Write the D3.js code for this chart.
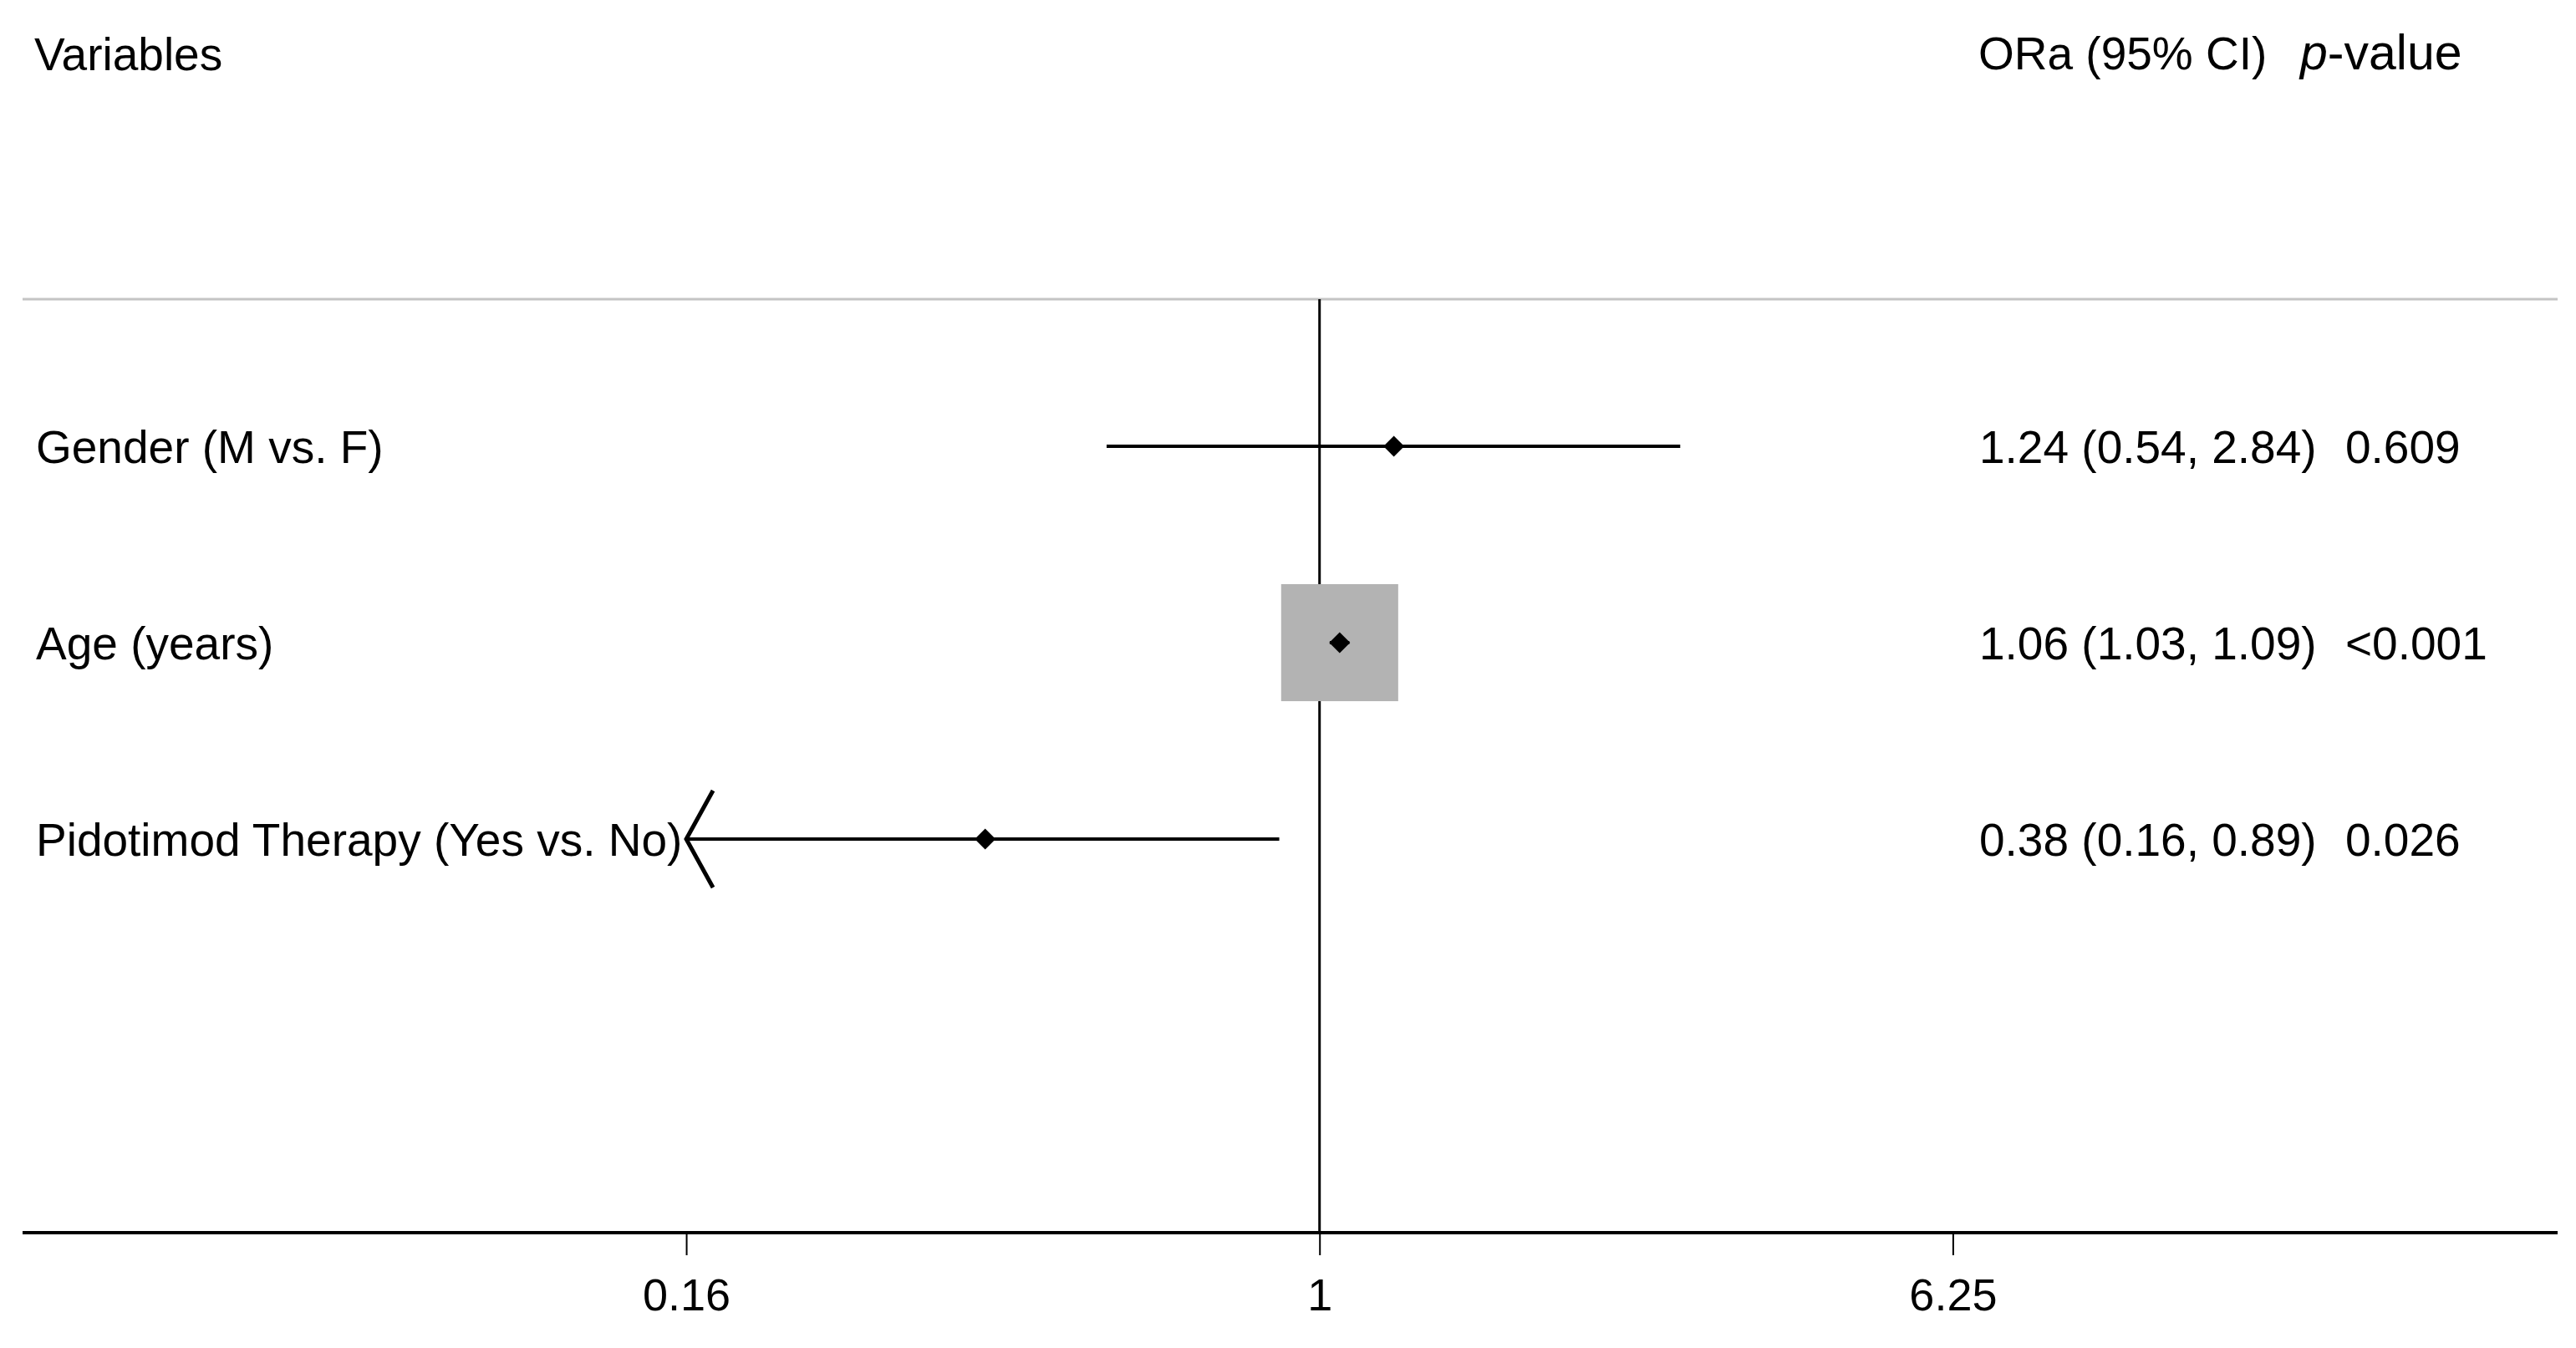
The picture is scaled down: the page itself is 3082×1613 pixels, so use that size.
<!DOCTYPE html>
<meta charset="utf-8">
<style>
body { margin: 0; background: #fff; }
text {
  font-family: "Liberation Sans", Arial, sans-serif;
  font-size: 55px;
  fill: #000;
}
</style>
<svg width="3082" height="1613"></svg>
<script src="https://d3js.org/d3.v7.min.js"></script>
<script>

// rows of the forest plot
var variables = ["Gender (M vs. F)", "Age (years)", "Pidotimod Therapy (Yes vs. No)"];
var oddsRatio = [1.24, 1.06, 0.38];
var ciLower   = [0.54, 1.03, 0.16];
var ciUpper   = [2.84, 1.09, 0.89];
var orLabels  = ["1.24 (0.54, 2.84)", "1.06 (1.03, 1.09)", "0.38 (0.16, 0.89)"];
var pValues   = ["0.609", "<0.001", "0.026"];
var tickValues = [0.16, 1, 6.25];

var svg = d3.select("svg"),
    width = +svg.attr("width"),
    height = +svg.attr("height");

var rows = variables.map(function(v, i) {
  return { name: v, or: oddsRatio[i], lo: ciLower[i], hi: ciUpper[i],
           label: orLabels[i], p: pValues[i], i: i };
});

var x = d3.scaleLog()
    .domain([0.0235, 35.8])
    .range([28, 3058]);

var y = d3.scaleLinear()
    .domain([0, rows.length - 1])
    .range([534, 1004]);

var topY = 358, axisY = 1475;
var boxScale = 7.93;   // box side ~ 1 / log CI width

// header
svg.append("text").attr("x", 41).attr("y", 84).text("Variables");
svg.append("text").attr("x", 2367).attr("y", 83).text("ORa (95% CI)");
var pv = svg.append("text").attr("x", 2752).attr("y", 83).style("font-size", "59px");
pv.append("tspan").style("font-style", "italic").text("p");
pv.append("tspan").text("-value");

// top grey rule
svg.append("line")
    .attr("x1", 27).attr("x2", 3060)
    .attr("y1", topY).attr("y2", topY)
    .attr("stroke", "#c4c4c4")
    .attr("stroke-width", 3);

// null line at OR = 1
svg.append("line")
    .attr("x1", x(1)).attr("x2", x(1))
    .attr("y1", topY).attr("y2", axisY)
    .attr("stroke", "#000")
    .attr("stroke-width", 3);

// bottom axis
var axis = svg.append("g")
    .attr("transform", "translate(0," + axisY + ")")
    .call(d3.axisBottom(x)
      .tickValues(tickValues)
      .tickFormat(function(d) { return d; })
      .tickSize(27)
      .tickPadding(28));
axis.select(".domain").remove();
axis.selectAll(".tick line").attr("stroke-width", 2);
axis.selectAll(".tick text")
    .style("font-family", "Liberation Sans, Arial, sans-serif")
    .style("font-size", "54px")
    .attr("fill", "#000");
svg.append("line")
    .attr("x1", 27).attr("x2", 3060)
    .attr("y1", axisY).attr("y2", axisY)
    .attr("stroke", "#000")
    .attr("stroke-width", 4);

// weight boxes
svg.append("g").selectAll("rect")
    .data(rows)
  .enter().append("rect")
    .attr("x", function(d) { return x(d.or) - boxScale / Math.log(d.hi / d.lo) / 2; })
    .attr("y", function(d) { return y(d.i) - boxScale / Math.log(d.hi / d.lo) / 2; })
    .attr("width", function(d) { return boxScale / Math.log(d.hi / d.lo); })
    .attr("height", function(d) { return boxScale / Math.log(d.hi / d.lo); })
    .attr("fill", "#b3b3b3");

// confidence intervals
var minTick = d3.min(tickValues);
svg.append("g").selectAll("line")
    .data(rows)
  .enter().append("line")
    .attr("x1", function(d) { return x(Math.max(d.lo, minTick)); })
    .attr("x2", function(d) { return x(d.hi); })
    .attr("y1", function(d) { return y(d.i); })
    .attr("y2", function(d) { return y(d.i); })
    .attr("stroke", "#000")
    .attr("stroke-width", 4);

// arrow where the interval reaches the axis limit
svg.append("g").selectAll("path")
    .data(rows.filter(function(d) { return d.lo <= minTick; }))
  .enter().append("path")
    .attr("d", function(d) {
      var tx = x(minTick), ty = y(d.i);
      return "M" + (tx + 32) + "," + (ty - 58) + "L" + tx + "," + ty + "L" + (tx + 32) + "," + (ty + 58);
    })
    .attr("fill", "none")
    .attr("stroke", "#000")
    .attr("stroke-width", 5);

// point estimates
svg.append("g").selectAll("path")
    .data(rows)
  .enter().append("path")
    .attr("d", d3.symbol(d3.symbolSquare, 312))
    .attr("transform", function(d) { return "translate(" + x(d.or) + "," + y(d.i) + ") rotate(45)"; })
    .attr("fill", "#000");

// row labels
var lab = svg.append("g").selectAll("g")
    .data(rows)
  .enter().append("g")
    .attr("transform", function(d) { return "translate(0," + (y(d.i) + 20) + ")"; });
lab.append("text").attr("x", 43).text(function(d) { return d.name; });
lab.append("text").attr("x", 2368).text(function(d) { return d.label; });
lab.append("text").attr("x", 2806).text(function(d) { return d.p; });

</script>
